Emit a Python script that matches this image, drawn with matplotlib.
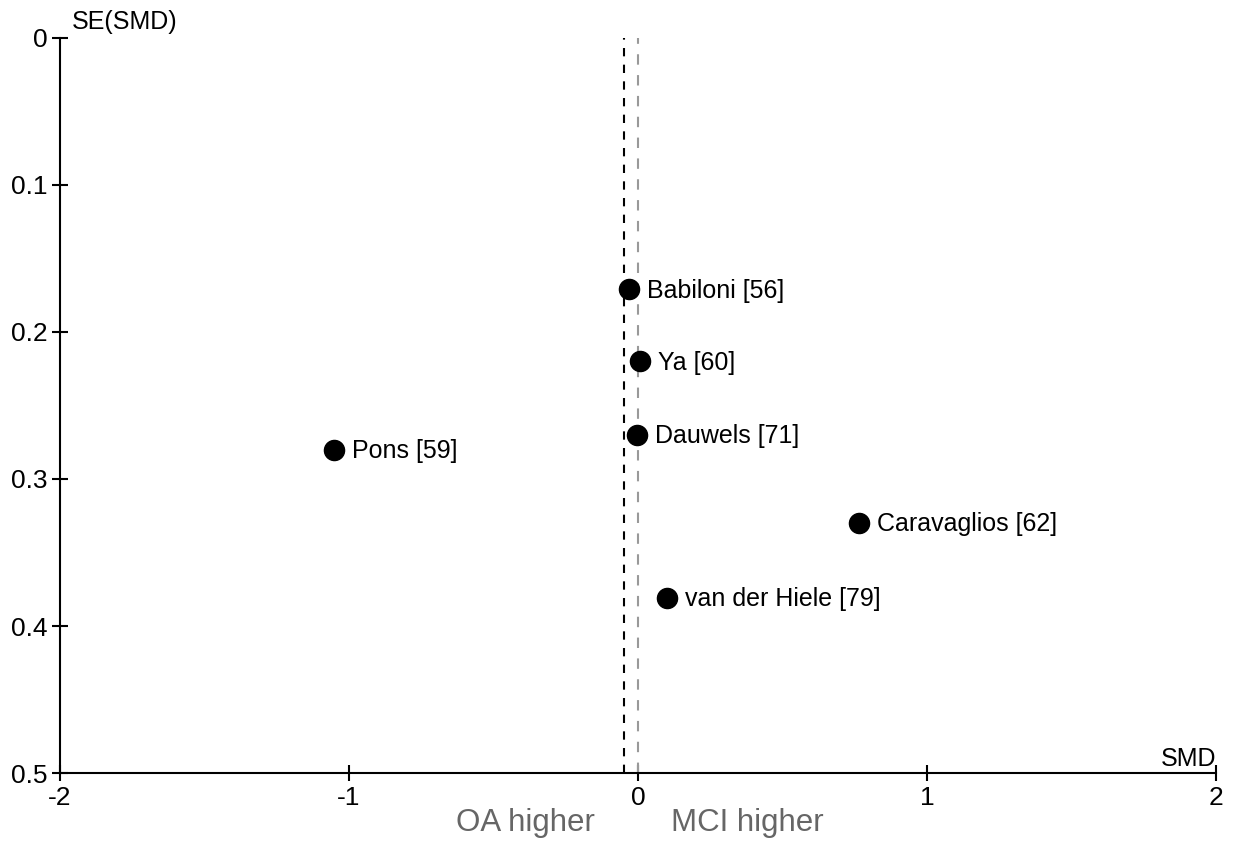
import matplotlib.pyplot as plt

plt.rcParams['font.family'] = ['Liberation Sans', 'DejaVu Sans']

# study effect sizes and their standard errors
studies = ['Babiloni [56]', 'Ya [60]', 'Dauwels [71]', 'Pons [59]',
           'Caravaglios [62]', 'van der Hiele [79]']
smd = [-0.03, 0.007, -0.003, -1.052, 0.765, 0.10]
se = [0.171, 0.220, 0.270, 0.280, 0.330, 0.381]

pooled_smd = -0.048
null_smd = 0.0

xticks = [-2, -1, 0, 1, 2]
yticks = [0, 0.1, 0.2, 0.3, 0.4, 0.5]

fig = plt.figure(figsize=(12.33, 8.43), dpi=100)
ax = fig.add_axes([0.0487, 0.083, 0.9375, 0.872])

ax.axvline(pooled_smd, color='black', linestyle=(0, (4, 4)), linewidth=1.5)
ax.axvline(null_smd, color='#999999', linestyle=(0, (5, 5)), linewidth=1.5)

ax.scatter(smd, se, s=210, color='black', zorder=3)
for name, x, y in zip(studies, smd, se):
    ax.annotate(name, (x, y), xytext=(13, -1), textcoords='offset points',
                va='center', ha='left', fontsize=18)

ax.set_xlim(-2, 2)
ax.set_ylim(0.5, 0)
ax.set_xticks(xticks)
ax.set_xticklabels([str(t) for t in xticks])
ax.set_yticks(yticks)
ax.set_yticklabels(['0', '0.1', '0.2', '0.3', '0.4', '0.5'])
ax.tick_params(direction='inout', length=12, width=1.5, labelsize=19, pad=3)

for side in ['top', 'right']:
    ax.spines[side].set_visible(False)
for side in ['left', 'bottom']:
    ax.spines[side].set_linewidth(1.5)

ax.text(0.01, 1.005, 'SE(SMD)', transform=ax.transAxes, fontsize=18,
        ha='left', va='bottom')
ax.text(1.0, 0.003, 'SMD', transform=ax.transAxes, fontsize=18,
        ha='right', va='bottom')

ax.text(-0.15, -0.068, 'OA higher', transform=ax.get_xaxis_transform(),
        fontsize=22.5, color='#666666', ha='right', va='center')
ax.text(0.115, -0.068, 'MCI higher', transform=ax.get_xaxis_transform(),
        fontsize=22.5, color='#666666', ha='left', va='center')

fig.savefig('out.png', dpi=100)
